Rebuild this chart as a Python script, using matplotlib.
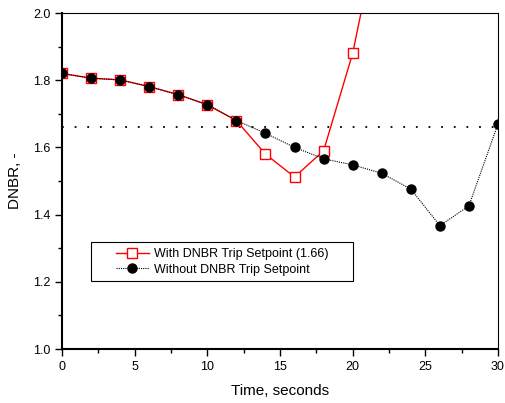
import matplotlib.pyplot as plt
from matplotlib.ticker import MultipleLocator
from matplotlib.patches import Rectangle

plt.rcParams['font.family'] = ['Liberation Sans', 'DejaVu Sans']

# data
t_with = [0, 2, 4, 6, 8, 10, 12, 14, 16, 18, 20, 22]
dnbr_with = [1.82, 1.806, 1.801, 1.781, 1.757, 1.727, 1.68, 1.58, 1.512, 1.59, 1.88, 2.3]
t_without = [0, 2, 4, 6, 8, 10, 12, 14, 16, 18, 20, 22, 24, 26, 28, 30]
dnbr_without = [1.82, 1.806, 1.801, 1.781, 1.757, 1.727, 1.68, 1.642, 1.60, 1.566,
                1.548, 1.523, 1.476, 1.367, 1.426, 1.67]
setpoint = 1.66

fig = plt.figure(figsize=(5.06, 4.03), dpi=100)
ax = fig.add_axes([62/506, 1 - 349/403, 436/506, 336/403])

ax.axhline(setpoint, color='black', ls=(0, (1, 6)), lw=1.3, zorder=1)
ax.plot(t_with, dnbr_with, color='red', lw=1, marker='s', ms=6.5,
        mfc='white', mec='red', label='With DNBR Trip Setpoint (1.66)', zorder=2)
ax.plot(t_without, dnbr_without, color='black', lw=0.8, ls=(0, (1, 1)), marker='o',
        ms=6.5, mfc='black', mec='black', label='Without DNBR Trip Setpoint', zorder=3)

ax.set_xlim(0, 30)
ax.set_ylim(1.0, 2.0)
ax.xaxis.set_major_locator(MultipleLocator(5))
ax.xaxis.set_minor_locator(MultipleLocator(2.5))
ax.yaxis.set_major_locator(MultipleLocator(0.2))
ax.yaxis.set_minor_locator(MultipleLocator(0.1))
ax.tick_params(which='major', direction='out', length=5, width=1, labelsize=9)
ax.tick_params(which='minor', direction='out', length=3, width=1)
ax.tick_params(top=False, right=False)
for s in ['left', 'bottom']:
    ax.spines[s].set_linewidth(1.5)

ax.set_xlabel('Time, seconds', fontsize=11, labelpad=8)
ax.set_ylabel('DNBR, -', fontsize=11, labelpad=8)

# legend frame drawn separately, Origin-style wide padding
ax.add_patch(Rectangle((0.0658, 0.2033), 0.6009, 0.116, transform=ax.transAxes,
                       fill=True, facecolor='white', edgecolor='black', lw=0.8, zorder=4))
leg = ax.legend(loc='upper left', bbox_to_anchor=(0.1239, 0.300), fontsize=9,
                handlelength=2.6, handletextpad=0.4, frameon=False,
                borderpad=0, borderaxespad=0, labelspacing=0.28)
leg.set_zorder(5)

fig.savefig('out.png', dpi=100)
